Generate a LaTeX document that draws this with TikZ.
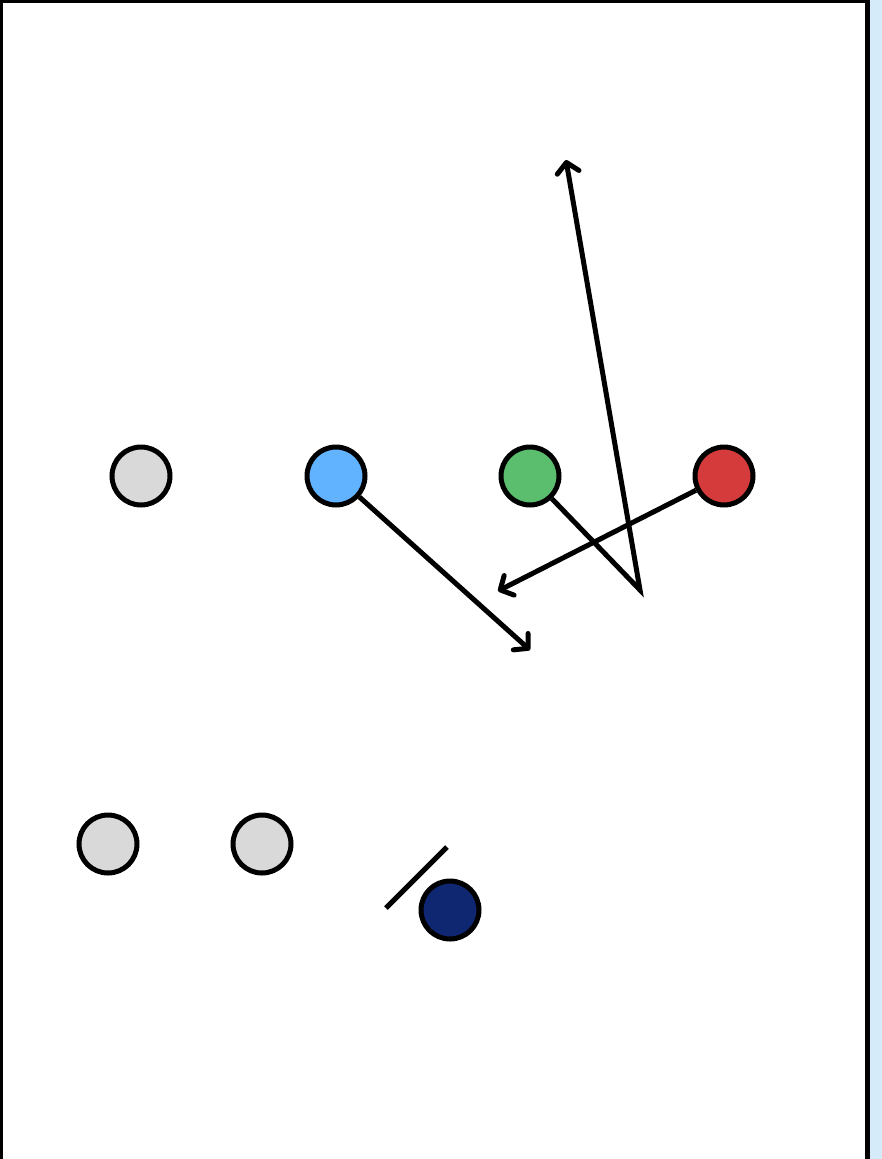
\documentclass[tikz,border=0pt]{standalone}
\usepackage{tikz}
\usetikzlibrary{arrows,arrows.meta,positioning}
\definecolor{playergray}{HTML}{D9D9D9}
\definecolor{playerblue}{HTML}{62B3FF}
\definecolor{playergreen}{HTML}{5BBD6E}
\definecolor{playerred}{HTML}{D63B3B}
\definecolor{playernavy}{HTML}{0F2670}
\definecolor{edgeblue}{HTML}{D6EBFA}

\begin{document}
\begin{tikzpicture}[x=1pt,y=-1pt,
	player/.style={shape=circle,draw,line width=5pt,inner sep=0pt,minimum size=58pt},
	route/.style={line width=5pt,-{Straight Barb[round,length=10pt,width=22pt]}},
	block/.style={line width=5pt}]
	\useasboundingbox (0,0) rectangle (882,1159);
	\fill[white] (0,0) rectangle (882,1159);
	\fill[edgeblue] (870,0) rectangle (882,1159);
	\draw[line width=3pt] (1.5,1159) -- (1.5,1.5) -- (867,1.5);
	\draw[line width=5pt] (867,0) -- (867,1159);
	% offense
	\path (141,476) node (g1) [player,fill=playergray] {}
		  (336,476) node (b) [player,fill=playerblue] {}
		  (530,476) node (gr) [player,fill=playergreen] {}
		  (724,476) node (r) [player,fill=playerred] {}
		  (108,844) node (g2) [player,fill=playergray] {}
		  (262,844) node (g3) [player,fill=playergray] {}
		  (450,910) node (qb) [player,fill=playernavy] {};
	% routes
	\coordinate (bend) at (640,590);
	\coordinate (deep) at (566,160);
	\coordinate (flat) at (498,591);
	\coordinate (out) at (530,650);
	\coordinate (blk1) at (386,908);
	\coordinate (blk2) at (447,847);
	\draw[route] (b) -- (out);
	\draw[route,line join=miter] (gr) -- (bend) -- (deep);
	\draw[route] (r) -- (flat);
	\draw[block] (blk1) -- (blk2);
\end{tikzpicture}
\end{document}
